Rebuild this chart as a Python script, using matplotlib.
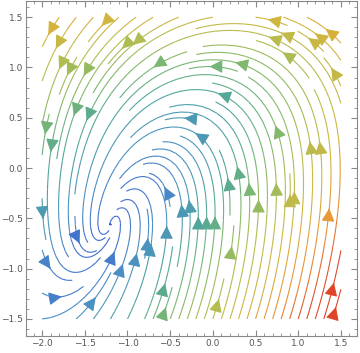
import numpy as np
import matplotlib
matplotlib.use("Agg")
import matplotlib.pyplot as plt
from matplotlib.colors import LinearSegmentedColormap, Normalize
from matplotlib.ticker import MultipleLocator

# spiral focus and coefficients of the field
focus = (-1.2, -0.56)
# u terms: dx, dy, dy**3, dx*dy, dx**2
u_coef = [-0.05, -0.5, -0.15, -0.2, 0.1]
# v terms: dx, dy, dx**2
v_coef = [1.1, -0.9, 0.1]

x_range = (-2.0, 1.5)
y_range = (-1.5, 1.5)
x_ticks = [-2.0, -1.5, -1.0, -0.5, 0.0, 0.5, 1.0, 1.5]
y_ticks = [-1.5, -1.0, -0.5, 0.0, 0.5, 1.0, 1.5]

colors = ["#3a5fd3", "#4b8fc4", "#4ea59e", "#7db86e", "#b4bd4f",
          "#d4b43c", "#ea9136", "#e0452a"]
cmap = LinearSegmentedColormap.from_list("wl", colors)

x = np.linspace(x_range[0], x_range[1], 200)
y = np.linspace(y_range[0], y_range[1], 200)
X, Y = np.meshgrid(x, y)
dx = X - focus[0]
dy = Y - focus[1]
U = (u_coef[0] * dx + u_coef[1] * dy + u_coef[2] * dy**3
     + u_coef[3] * dx * dy + u_coef[4] * dx**2)
V = v_coef[0] * dx + v_coef[1] * dy + v_coef[2] * dx**2
speed = np.hypot(U, V)
norm = Normalize(vmin=0.0, vmax=0.85 * speed.max())

fig = plt.figure(figsize=(3.6, 3.53), dpi=100)
ax = fig.add_axes([0.072, 0.048, 0.92, 0.949])
ax.streamplot(X, Y, U, V, color=speed, cmap=cmap, norm=norm, density=1.2,
              linewidth=0.8, arrowsize=2.0, arrowstyle="-|>")

ax.set_xlim(-2.19, 1.69)
ax.set_ylim(-1.67, 1.66)
ax.set_xticks(x_ticks)
ax.set_yticks(y_ticks)
ax.xaxis.set_minor_locator(MultipleLocator(0.1))
ax.yaxis.set_minor_locator(MultipleLocator(0.1))
ax.tick_params(which="both", direction="in", top=True, right=True,
               color="#888888", labelsize=6.5, labelcolor="#555555", pad=2)
ax.tick_params(which="major", length=4)
ax.tick_params(which="minor", length=2)
for s in ax.spines.values():
    s.set_color("#888888")

fig.savefig("out.png", dpi=100)
